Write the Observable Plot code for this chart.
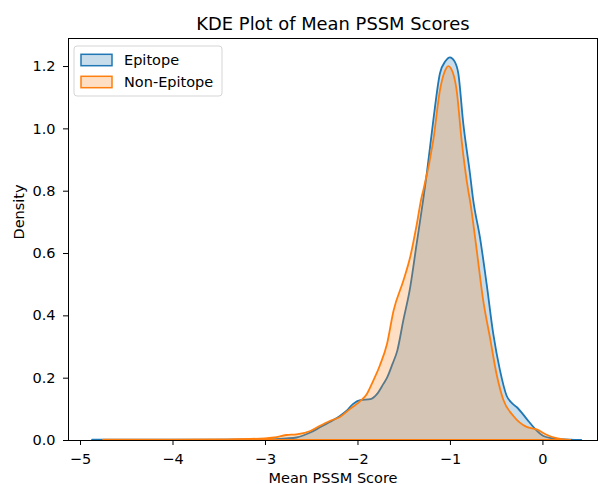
<!DOCTYPE html>
<html><head><meta charset="utf-8">
<script src="https://cdn.jsdelivr.net/npm/d3@7"></script>
<script src="https://cdn.jsdelivr.net/npm/@observablehq/plot@0.6"></script>
<style>body{margin:0;background:#fff;font-family:"DejaVu Sans",sans-serif}</style>
</head><body><div id="chart"></div>
<script>
const title = "KDE Plot of Mean PSSM Scores";
const xLabel = "Mean PSSM Score";
const yLabel = "Density";
const seriesNames = ["Epitope", "Non-Epitope"];
const seriesColors = ["#1f77b4", "#ff7f0e"];
const xTicks = [-5, -4, -3, -2, -1, 0];
const yTicks = [0, 0.2, 0.4, 0.6, 0.8, 1.0, 1.2];

const epitopeX = [-4.87, -4.5, -4.0, -3.5, -3.0, -2.77, -2.66, -2.51, -2.41, -2.30, -2.19, -2.12, -2.05, -1.97, -1.86, -1.79, -1.72, -1.68, -1.62, -1.57, -1.505, -1.43, -1.36, -1.29, -1.25, -1.18, -1.108, -1.05, -1.0, -0.95, -0.91, -0.856, -0.784, -0.748, -0.676, -0.603, -0.532, -0.46, -0.387, -0.33, -0.279, -0.171, -0.08, 0.01, 0.1, 0.19, 0.3, 0.42];
const epitopeY = [0.001, 0.001, 0.001, 0.001, 0.002, 0.005, 0.008, 0.024, 0.04, 0.058, 0.077, 0.093, 0.115, 0.128, 0.131, 0.147, 0.18, 0.2, 0.245, 0.286, 0.383, 0.49, 0.63, 0.77, 0.856, 1.026, 1.177, 1.215, 1.228, 1.215, 1.177, 1.016, 0.856, 0.769, 0.651, 0.50, 0.341, 0.225, 0.142, 0.118, 0.106, 0.068, 0.036, 0.013, 0.006, 0.003, 0.001, 0.0];

const nonEpitopeX = [-4.75, -4.5, -4.0, -3.5, -3.0, -2.9, -2.77, -2.66, -2.51, -2.41, -2.30, -2.19, -2.08, -1.97, -1.90, -1.83, -1.757, -1.68, -1.61, -1.505, -1.43, -1.36, -1.306, -1.289, -1.18, -1.108, -1.06, -1.018, -0.97, -0.928, -0.874, -0.802, -0.784, -0.711, -0.64, -0.568, -0.495, -0.424, -0.316, -0.171, -0.063, 0.045, 0.15, 0.3];
const nonEpitopeY = [0.001, 0.001, 0.001, 0.002, 0.005, 0.008, 0.016, 0.018, 0.029, 0.045, 0.061, 0.074, 0.10, 0.125, 0.147, 0.19, 0.24, 0.309, 0.415, 0.51, 0.587, 0.69, 0.78, 0.80, 0.962, 1.123, 1.18, 1.20, 1.18, 1.123, 0.962, 0.80, 0.77, 0.61, 0.447, 0.33, 0.21, 0.13, 0.078, 0.042, 0.034, 0.017, 0.006, 0.0];

const epData = epitopeX.map((x, i) => ({x, y: epitopeY[i]}));
const nonData = nonEpitopeX.map((x, i) => ({x, y: nonEpitopeY[i]}));

const FS = 14.5;
const chart = Plot.plot({
  width: 599, height: 484,
  marginLeft: 68, marginRight: 2, marginTop: 38, marginBottom: 44,
  style: {fontFamily: "DejaVu Sans", fontSize: FS + "px", color: "black", background: "white", overflow: "visible"},
  x: {domain: [-5.13, 0.59]},
  y: {domain: [0, 1.29]},
  marks: [
    Plot.areaY(epData, {x: "x", y: "y", fill: seriesColors[0], fillOpacity: 0.25, stroke: seriesColors[0], strokeWidth: 1.8, curve: "monotone-x"}),
    Plot.areaY(nonData, {x: "x", y: "y", fill: seriesColors[1], fillOpacity: 0.25, stroke: seriesColors[1], strokeWidth: 1.8, curve: "monotone-x"}),
    Plot.frame({stroke: "black", strokeWidth: 1}),
    Plot.axisX({ticks: xTicks, tickFormat: "d", tickSize: 5, tickPadding: 8, label: null, fontSize: FS}),
    Plot.axisY({ticks: yTicks, tickFormat: ".1f", tickSize: 5, tickPadding: 8, label: null, fontSize: FS}),
    Plot.text([title], {frameAnchor: "top", lineAnchor: "middle", dy: -14.7, fontSize: 17.9, fill: "black"}),
    Plot.text([xLabel], {frameAnchor: "bottom", lineAnchor: "middle", dy: 37.4, fontSize: FS, fill: "black"}),
    Plot.text([yLabel], {frameAnchor: "left", lineAnchor: "middle", dx: -49, rotate: -90, fontSize: FS, fill: "black"})
  ]
});
document.getElementById("chart").appendChild(chart);

// legend
const svg = d3.select(chart);
const lg = svg.append("g").attr("font-family", "DejaVu Sans").attr("font-size", FS).attr("text-anchor", "start");
lg.append("rect").attr("x", 74).attr("y", 46).attr("width", 148).attr("height", 50)
  .attr("rx", 3).attr("fill", "white").attr("fill-opacity", 0.8).attr("stroke", "#d5d5d5").attr("stroke-width", 1);
seriesNames.forEach((name, i) => {
  const cy = 60 + i * 22;
  lg.append("rect").attr("x", 81).attr("y", cy - 5.7).attr("width", 31).attr("height", 11.4)
    .attr("fill", seriesColors[i]).attr("fill-opacity", 0.25).attr("stroke", seriesColors[i]).attr("stroke-width", 1.5);
  lg.append("text").attr("x", 124).attr("y", cy + 5).attr("text-anchor", "start").attr("fill", "black").text(name);
});
</script>
</body></html>
